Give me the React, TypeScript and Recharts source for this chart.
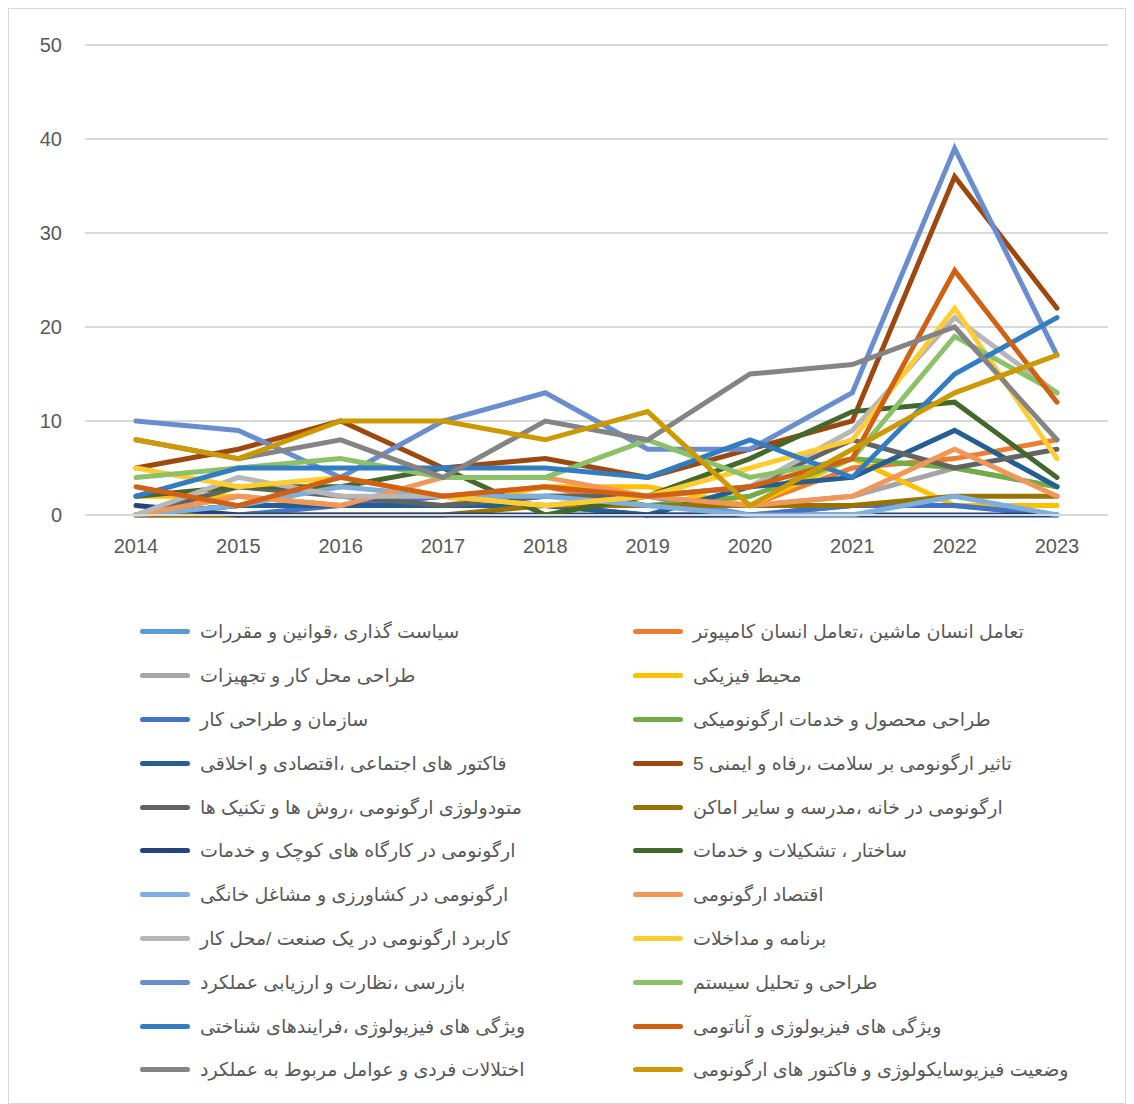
import React from 'react'
import {
  LineChart,
  Line,
  XAxis,
  YAxis,
  CartesianGrid,
  Legend
} from 'recharts'

const years = ['2014', '2015', '2016', '2017', '2018', '2019', '2020', '2021', '2022', '2023']

const yTicks = [0, 10, 20, 30, 40, 50]

// series values, one array per topic (same order as legend)
const policy = [0, 1, 1, 1, 2, 2, 0, 1, 1, 0]
const hci = [0, 2, 1, 2, 3, 1, 1, 5, 6, 8]
const workplace = [0, 1, 1, 2, 2, 2, 1, 2, 5, 3]
const physicalEnv = [2, 2, 1, 1, 3, 3, 1, 6, 1, 1]
const organization = [0, 0, 1, 2, 1, 0, 0, 1, 1, 0]
const productDesign = [0, 1, 1, 1, 1, 1, 2, 6, 5, 3]
const socialFactors = [0, 1, 1, 1, 1, 0, 3, 4, 9, 3]
const healthImpact = [5, 7, 10, 5, 6, 4, 7, 10, 36, 22]
const methodology = [0, 3, 2, 1, 2, 2, 3, 8, 5, 7]
const homeSchool = [0, 0, 0, 0, 1, 1, 1, 1, 2, 2]
const smallShops = [1, 0, 0, 0, 0, 0, 0, 0, 0, 0]
const structure = [2, 3, 3, 5, 0, 2, 6, 11, 12, 4]
const agriculture = [0, 1, 3, 2, 2, 1, 0, 0, 2, 0]
const economics = [0, 2, 1, 4, 4, 2, 1, 2, 7, 2]
const industryUse = [0, 4, 2, 2, 1, 2, 3, 9, 21, 13]
const programs = [5, 3, 4, 2, 1, 2, 5, 8, 22, 6]
const inspection = [10, 9, 4, 10, 13, 7, 7, 13, 39, 17]
const systemDesign = [4, 5, 6, 4, 4, 8, 4, 6, 19, 13]
const cognitive = [2, 5, 5, 5, 5, 4, 8, 4, 15, 21]
const anatomy = [3, 1, 4, 2, 3, 2, 3, 6, 26, 12]
const disorders = [8, 6, 8, 4, 10, 8, 15, 16, 20, 8]
const psychophysio = [8, 6, 10, 10, 8, 11, 1, 7, 13, 17]

const series = [
  { key: 's1', name: 'سیاست گذاری ،قوانین و مقررات', color: '#5B9BD5', values: policy },
  { key: 's2', name: 'تعامل انسان ماشین ،تعامل انسان کامپیوتر', color: '#ED7D31', values: hci },
  { key: 's3', name: 'طراحی محل کار و تجهیزات', color: '#A5A5A5', values: workplace },
  { key: 's4', name: 'محیط فیزیکی', color: '#FFC000', values: physicalEnv },
  { key: 's5', name: 'سازمان و طراحی کار', color: '#4472C4', values: organization },
  { key: 's6', name: 'طراحی محصول و خدمات ارگونومیکی', color: '#70AD47', values: productDesign },
  { key: 's7', name: 'فاکتور های اجتماعی ،اقتصادی و اخلاقی', color: '#255E91', values: socialFactors },
  { key: 's8', name: 'تاثیر ارگونومی بر سلامت ،رفاه و ایمنی  5', color: '#9E480E', values: healthImpact },
  { key: 's9', name: 'متودولوژی ارگونومی ،روش ها و تکنیک ها', color: '#636363', values: methodology },
  { key: 's10', name: 'ارگونومی در خانه ،مدرسه و سایر اماکن', color: '#997300', values: homeSchool },
  { key: 's11', name: 'ارگونومی در کارگاه های کوچک و خدمات', color: '#264478', values: smallShops },
  { key: 's12', name: 'ساختار ، تشکیلات و خدمات', color: '#43682B', values: structure },
  { key: 's13', name: 'ارگونومی در کشاورزی و مشاغل خانگی', color: '#7CAFDD', values: agriculture },
  { key: 's14', name: 'اقتصاد ارگونومی', color: '#F1975A', values: economics },
  { key: 's15', name: 'کاربرد ارگونومی در یک صنعت /محل کار', color: '#B7B7B7', values: industryUse },
  { key: 's16', name: 'برنامه و مداخلات', color: '#FFCD33', values: programs },
  { key: 's17', name: 'بازرسی ،نظارت و ارزیابی عملکرد', color: '#698ED0', values: inspection },
  { key: 's18', name: 'طراحی و تحلیل سیستم', color: '#8CC168', values: systemDesign },
  { key: 's19', name: 'ویژگی های فیزیولوژی ،فرایندهای شناختی', color: '#327DC2', values: cognitive },
  { key: 's20', name: 'ویژگی های فیزیولوژی و آناتومی', color: '#D26012', values: anatomy },
  { key: 's21', name: 'اختلالات فردی و عوامل مربوط به عملکرد', color: '#848484', values: disorders },
  { key: 's22', name: 'وضعیت فیزیوسایکولوژی و فاکتور های ارگونومی', color: '#CC9A00', values: psychophysio }
]

const chartData = years.map((year, i) => {
  const row: any = { year }
  series.forEach((s) => {
    row[s.key] = s.values[i]
  })
  return row
})

const FONT = "'Liberation Sans', 'DejaVu Sans', Arial, sans-serif"

// legend keeps the series order (row by row, two columns)
const renderLegend = () => (
  <div
    style={{
      display: 'grid',
      gridTemplateColumns: '493px 480px',
      gridAutoRows: '43.8px',
      paddingLeft: 131,
      paddingTop: 45,
      fontFamily: FONT,
      fontSize: 19,
      color: '#595959'
    }}
  >
    {series.map((s) => (
      <div key={s.key} style={{ display: 'flex', alignItems: 'center' }}>
        <span
          style={{
            display: 'inline-block',
            width: 50,
            height: 5,
            borderRadius: 3,
            background: s.color,
            marginRight: 10,
            flexShrink: 0
          }}
        />
        <span dir="rtl" style={{ whiteSpace: 'nowrap' }}>
          {s.name}
        </span>
      </div>
    ))}
  </div>
)

export default function App() {
  return (
    <div style={{ width: 1116, height: 1094, border: '1px solid #d9d9d9', background: '#fff' }}>
      <LineChart
        width={1116}
        height={1094}
        data={chartData}
        margin={{ top: 36, right: 17, bottom: 8, left: 0 }}
      >
        <CartesianGrid vertical={false} stroke="#d9d9d9" strokeWidth={2} />
        <XAxis
          dataKey="year"
          height={50}
          padding={{ left: 51, right: 51 }}
          axisLine={{ stroke: '#d9d9d9', strokeWidth: 2 }}
          tickLine={false}
          tickSize={0}
          tickMargin={24}
          tick={{ fill: '#595959', fontSize: 20, fontFamily: FONT }}
        />
        <YAxis
          width={76}
          domain={[0, 50]}
          ticks={yTicks}
          axisLine={false}
          tickLine={false}
          tickSize={0}
          tickMargin={23}
          tick={{ fill: '#595959', fontSize: 20, fontFamily: FONT }}
        />
        <Legend verticalAlign="bottom" height={530} content={renderLegend} />
        {series.map((s) => (
          <Line
            key={s.key}
            type="linear"
            dataKey={s.key}
            name={s.name}
            stroke={s.color}
            strokeWidth={5}
            strokeLinecap="round"
            dot={false}
            isAnimationActive={false}
          />
        ))}
      </LineChart>
    </div>
  )
}
